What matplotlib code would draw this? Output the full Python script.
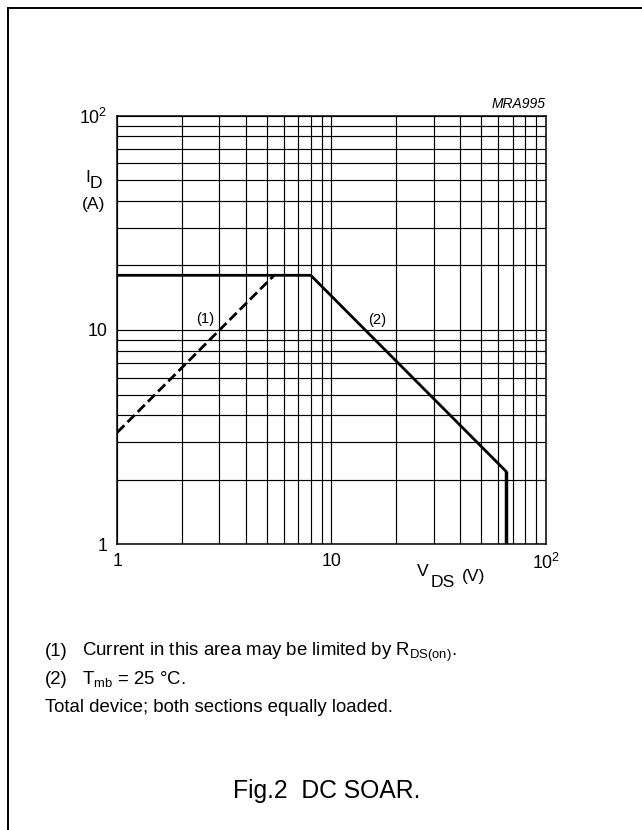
import matplotlib
matplotlib.use("Agg")
import matplotlib.pyplot as plt
from matplotlib import ticker
from matplotlib.lines import Line2D

plt.rcParams['font.family'] = ['Liberation Sans', 'DejaVu Sans']
plt.rcParams['mathtext.fontset'] = 'custom'
plt.rcParams['mathtext.rm'] = 'Liberation Sans'
plt.rcParams['mathtext.it'] = 'Liberation Sans:italic'

# SOAR limits
rds_v = [1, 5.4]            # (1) R_DS(on) limit, V_DS in V
rds_i = [3.33, 18]          # I_D in A
soa_v = [1, 8, 65]          # (2) current / power limit
soa_i = [18, 18, 2.2]
drop_v = [65, 65]           # voltage limit
drop_i = [2.2, 1]

x_ticks = [1, 10, 100]
x_labels = ['1', '10', r'$10^2$']
y_ticks = [1, 10, 100]
y_labels = ['1', '10', r'$10^2$']

W, H = 642, 830
fig = plt.figure(figsize=(W / 100, H / 100), dpi=100)

def px(x, y):
    return x / W, 1 - y / H

ax = fig.add_axes([117.3 / W, 1 - 544.3 / H, 428.4 / W, 428.6 / H])
ax.set_xscale('log')
ax.set_yscale('log')
ax.set_xlim(1, 100)
ax.set_ylim(1, 100)
ax.grid(True, which='both', color='black', lw=0.85)
ax.set_axisbelow(True)
for s in ax.spines.values():
    s.set_linewidth(1.1)

ax.xaxis.set_major_locator(ticker.FixedLocator(x_ticks))
ax.xaxis.set_major_formatter(ticker.FixedFormatter(x_labels))
ax.yaxis.set_major_locator(ticker.FixedLocator(y_ticks))
ax.yaxis.set_major_formatter(ticker.FixedFormatter(y_labels))
ax.xaxis.set_minor_formatter(ticker.NullFormatter())
ax.yaxis.set_minor_formatter(ticker.NullFormatter())
ax.tick_params(which='both', length=0)
ax.tick_params(axis='x', pad=6, labelsize=12.8)
ax.tick_params(axis='y', pad=7, labelsize=12.8)

ax.plot(rds_v, rds_i, color='black', lw=2, dashes=(3.6, 1.6), solid_capstyle='butt')
ax.plot(soa_v, soa_i, color='black', lw=2, solid_joinstyle='miter')
ax.plot(drop_v, drop_i, color='black', lw=2.5, solid_capstyle='butt')

ax.text(2.57, 11.2, '(1)', ha='center', va='center', fontsize=10.6)
ax.text(16.3, 11.1, '(2)', ha='center', va='center', fontsize=10.6)
ax.text(1.0, 1.027, 'MRA995', transform=ax.transAxes, ha='right', va='center',
        fontsize=10, style='italic')

# axis titles
fig.text(*px(87.5, 178), 'I', ha='center', va='center', fontsize=12.6)
fig.text(*px(96, 184), 'D', ha='center', va='center', fontsize=12.6)
fig.text(*px(94, 204), '(A)', ha='center', va='center', fontsize=12.6)
fig.text(*px(422.7, 572), 'V', ha='center', va='center', fontsize=12.6)
fig.text(*px(442.7, 582), 'DS', ha='center', va='center', fontsize=12.6)
fig.text(*px(473.3, 576), '(V)', ha='center', va='center', fontsize=12.6)

# notes
fs = 13.4
fig.text(*px(45, 656), '(1)', ha='left', va='baseline', fontsize=fs)
fig.text(*px(82, 656), r'Current in this area may be limited by R$_{\mathrm{DS(on)}}$.',
         ha='left', va='baseline', fontsize=fs)
fig.text(*px(45, 683.5), '(2)', ha='left', va='baseline', fontsize=fs)
fig.text(*px(82, 683.5), r'T$_{\mathrm{mb}}$ = 25 °C.', ha='left', va='baseline', fontsize=fs)
fig.text(*px(45, 711.5), 'Total device; both sections equally loaded.',
         ha='left', va='baseline', fontsize=fs)
fig.text(*px(327, 798), 'Fig.2  DC SOAR.', ha='center', va='baseline', fontsize=17.8)

# frame
fig.add_artist(Line2D([8 / W, 1], [1 - 8 / H, 1 - 8 / H], color='black', lw=1.4))
fig.add_artist(Line2D([8 / W, 8 / W], [0, 1 - 8 / H], color='black', lw=1.4))

fig.savefig('out.png', dpi=100)
